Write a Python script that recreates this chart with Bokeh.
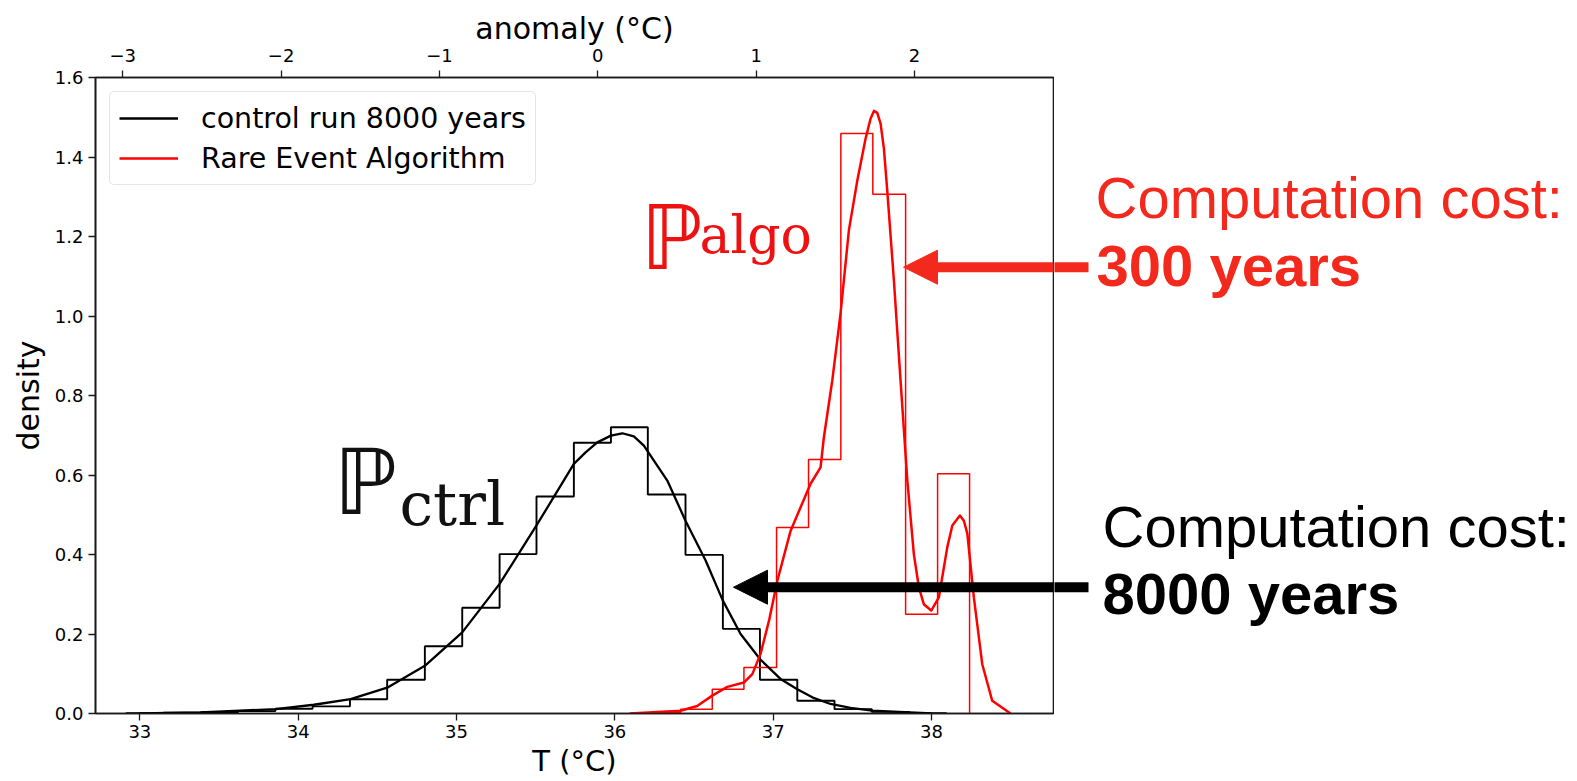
from bokeh.plotting import figure
from bokeh.layouts import row
from bokeh.models import (Range1d, LinearAxis, FixedTicker, Label, Arrow, NormalHead,
                          Legend, LegendItem, NumeralTickFormatter, CustomJSTickFormatter)
from bokeh.embed import file_html
from bokeh.resources import INLINE

# ---------------- data ----------------
ctrl_edges = [32.914, 33.149, 33.385, 33.620, 33.856, 34.091, 34.327, 34.562, 34.800,
              35.036, 35.272, 35.505, 35.741, 35.975, 36.208, 36.446, 36.682, 36.916,
              37.152, 37.387, 37.623, 37.858, 38.093]
ctrl_density = [0.001, 0.002, 0.003, 0.006, 0.012, 0.018, 0.036, 0.085, 0.169, 0.266,
                0.401, 0.546, 0.681, 0.720, 0.551, 0.399, 0.213, 0.085, 0.032, 0.011,
                0.004, 0.001]

algo_edges = [36.212, 36.415, 36.615, 36.815, 37.021, 37.223, 37.427, 37.629, 37.836,
              38.038, 38.240]
algo_density = [0.002, 0.011, 0.061, 0.116, 0.468, 0.639, 1.459, 1.306, 0.250, 0.603]

ctrl_kde_T = [32.993, 33.383, 33.857, 34.099, 34.331, 34.562, 34.800, 35.036, 35.272,
              35.505, 35.741, 35.815, 35.889, 35.975, 36.047, 36.120, 36.183, 36.331,
              36.446, 36.573, 36.682, 36.794, 36.916, 37.046, 37.152, 37.250, 37.362,
              37.488, 37.625, 38.000]
ctrl_kde_d = [0.000, 0.003, 0.011, 0.022, 0.036, 0.065, 0.120, 0.204, 0.326,
              0.473, 0.628, 0.657, 0.682, 0.699, 0.705, 0.697, 0.674, 0.586,
              0.485, 0.385, 0.284, 0.200, 0.137, 0.087, 0.061, 0.040, 0.024,
              0.014, 0.007, 0.000]

algo_kde_T = [36.093, 36.415, 36.520, 36.615, 36.710, 36.815, 36.868, 36.920, 36.973,
              37.026, 37.110, 37.236, 37.299, 37.320, 37.373, 37.425, 37.478, 37.531,
              37.583, 37.615, 37.636, 37.657, 37.678, 37.699, 37.720, 37.762, 37.804,
              37.847, 37.888, 37.920, 37.951, 37.998, 38.046, 38.099, 38.131, 38.179,
              38.204, 38.226, 38.267, 38.320, 38.383, 38.499]
algo_kde_d = [0.000, 0.007, 0.019, 0.045, 0.067, 0.078, 0.099, 0.150, 0.233,
              0.334, 0.460, 0.578, 0.619, 0.695, 0.838, 1.006, 1.216, 1.341,
              1.446, 1.497, 1.516, 1.511, 1.484, 1.421, 1.316, 1.090, 0.838,
              0.586, 0.401, 0.317, 0.275, 0.259, 0.292, 0.418, 0.473, 0.498,
              0.485, 0.452, 0.292, 0.124, 0.032, 0.000]

T_ticks = [33, 34, 35, 36, 37, 38]
density_ticks = [0.0, 0.2, 0.4, 0.6, 0.8, 1.0, 1.2, 1.4, 1.6]
anomaly_ticks = [-3, -2, -1, 0, 1, 2]
anomaly_offset = 35.892

legend_labels = ["control run 8000 years", "Rare Event Algorithm"]
cost_labels = ["Computation cost:", "300 years", "Computation cost:", "8000 years"]

# ---------------- layout constants (page pixels) ----------------
W, H = 1577, 781
LEFT, TOP, BOTTOM = 95, 77, 68
MAIN_W = 1054
XMIN, XMAX = 32.72, 38.77
YMAX = 1.6
FRAME_W = MAIN_W - LEFT - 1
FRAME_H = H - TOP - BOTTOM
RED = "#f4291d"
SPINE = "#1a1a1a"
BASE_SHIFT = 0.37   # label anchor correction, in em

p = figure(width=MAIN_W, height=H, x_range=Range1d(XMIN, XMAX), y_range=Range1d(0, YMAX),
           output_backend="svg", toolbar_location=None,
           min_border_left=LEFT, min_border_right=1, min_border_top=TOP,
           min_border_bottom=BOTTOM)
p.xgrid.visible = False
p.ygrid.visible = False
p.outline_line_color = SPINE
p.outline_line_width = 1.6

TICK_FONT = "18px"

def style_axis(ax, standoff, title_size="30px"):
    ax.major_label_text_font = "DejaVu Sans"
    ax.major_label_text_font_size = TICK_FONT
    ax.major_label_text_color = "black"
    ax.major_tick_out = 7
    ax.major_tick_in = 0
    ax.minor_tick_out = 0
    ax.minor_tick_in = 0
    ax.axis_line_color = SPINE
    ax.axis_line_width = 1.6
    ax.major_tick_line_width = 1.3
    ax.major_tick_line_color = SPINE
    ax.major_label_standoff = standoff
    ax.axis_label_text_font = "DejaVu Sans"
    ax.axis_label_text_font_size = title_size
    ax.axis_label_text_font_style = "normal"
    ax.axis_label_text_color = "black"

bx = p.xaxis[0]
style_axis(bx, 4, "29px")
bx.ticker = FixedTicker(ticks=T_ticks)
bx.axis_label = "T (°C)"
bx.axis_label_standoff = 3

ly = p.yaxis[0]
style_axis(ly, 5)
ly.ticker = FixedTicker(ticks=density_ticks)
ly.formatter = NumeralTickFormatter(format="0.0")
ly.axis_label = "density"
ly.axis_label_standoff = 6

p.extra_x_ranges = {"anom": Range1d(XMIN - anomaly_offset, XMAX - anomaly_offset)}
top = LinearAxis(x_range_name="anom", ticker=FixedTicker(ticks=anomaly_ticks),
                 formatter=CustomJSTickFormatter(
                     code="return tick < 0 ? '\u2212' + Math.abs(tick) : tick.toString();"))
style_axis(top, 9)
top.axis_label = "anomaly (°C)"
top.axis_label_standoff = 0
p.add_layout(top, "above")

# histogram outlines (step style)
def step_path(edges, dens):
    xs, ys = [edges[0]], [0.0]
    for i, h in enumerate(dens):
        xs += [edges[i], edges[i + 1]]
        ys += [h, h]
    xs.append(edges[-1]); ys.append(0.0)
    return xs, ys

cx, cy = step_path(ctrl_edges, ctrl_density)
ax_, ay_ = step_path(algo_edges, algo_density)
p.line(cx, cy, line_color="black", line_width=1.9)
p.line(ax_, ay_, line_color="#ff0000", line_width=1.5)

r_ctrl = p.line(ctrl_kde_T, ctrl_kde_d, line_color="black", line_width=2.3, line_join="round")
r_algo = p.line(algo_kde_T, algo_kde_d, line_color="#ff0000", line_width=2.5, line_join="round")

legend = Legend(items=[LegendItem(label=legend_labels[0], renderers=[r_ctrl]),
                       LegendItem(label=legend_labels[1], renderers=[r_algo])],
                location="top_left")
legend.label_text_font = "DejaVu Sans"
legend.label_text_font_size = "28.5px"
legend.label_text_color = "black"
legend.glyph_width = 59
legend.glyph_height = 34
legend.label_height = 34
legend.spacing = 6
legend.padding = 9
legend.margin = 14
legend.label_standoff = 23
legend.border_line_color = "#cccccc"
legend.border_line_width = 1.5
legend.background_fill_alpha = 0.85
if "border_radius" in Legend.properties():
    legend.border_radius = 5
p.add_layout(legend)

# page pixel -> data helpers for the main frame
def tx(px):
    return XMIN + (px - LEFT) * (XMAX - XMIN) / FRAME_W

def dy(py):
    return (H - BOTTOM - py) * YMAX / FRAME_H

def add_label(fig, px, baseline, text, size, color="black", font="DejaVu Sans",
              style="normal", main=True):
    py = baseline - BASE_SHIFT * size
    x, y = (tx(px), dy(py)) if main else (px, py)
    fig.add_layout(Label(x=x, y=y, text=text, text_font=font, text_font_size=f"{size}px",
                         text_font_style=style, text_color=color, text_align="left",
                         text_baseline="alphabetic"))

# P labels inside the frame
add_label(p, 333, 516, "\u2119", 91, color="#111111")
add_label(p, 399, 526, "ctrl", 60, color="#111111", font="DejaVu Serif")
add_label(p, 640, 270, "\u2119", 89, color="#ee1111")
add_label(p, 699, 254, "algo", 52, color="#ee1111", font="DejaVu Serif")

ARROWS = [(1088, 903, 266.7, RED), (1088, 733, 586.7, "black")]
for (x0, x1, yy, col) in ARROWS:
    p.add_layout(Arrow(end=NormalHead(size=34, fill_color=col, line_color=col, line_width=1),
                       x_start=tx(x0), y_start=dy(yy), x_end=tx(x1), y_end=dy(yy),
                       line_color=col, line_width=10))

# ---------------- right-hand annotation panel (page pixel units) ----------------
q = figure(width=W - MAIN_W, height=H, x_range=Range1d(MAIN_W, W),
           y_range=Range1d(H - BOTTOM, TOP),
           output_backend="svg", toolbar_location=None, x_axis_type=None, y_axis_type=None,
           min_border_left=0, min_border_right=0, min_border_top=TOP,
           min_border_bottom=BOTTOM)
q.outline_line_color = None
q.xgrid.visible = False
q.ygrid.visible = False

for (x0, x1, yy, col) in ARROWS:
    q.add_layout(Arrow(end=None, x_start=MAIN_W - 5, y_start=yy, x_end=x0, y_end=yy,
                       line_color=col, line_width=10))

add_label(q, 1095, 218.3, cost_labels[0], 58, color=RED, font="Liberation Sans", main=False)
add_label(q, 1096, 286.7, cost_labels[1], 58, color=RED, font="Liberation Sans",
          style="bold", main=False)
add_label(q, 1102, 547.7, cost_labels[2], 58, color="black", font="Liberation Sans", main=False)
add_label(q, 1102, 614.3, cost_labels[3], 58, color="black", font="Liberation Sans",
          style="bold", main=False)

layout = row(p, q, spacing=0)
open("out.html", "w").write(file_html(layout, INLINE))
